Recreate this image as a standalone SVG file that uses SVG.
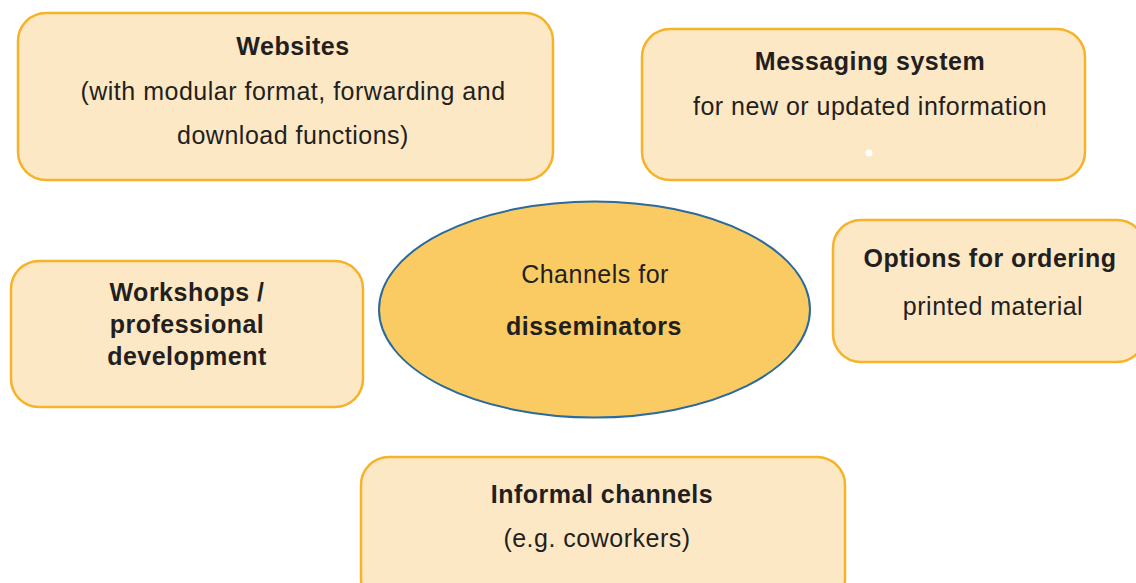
<svg xmlns="http://www.w3.org/2000/svg" width="1136" height="583" viewBox="0 0 1136 583">
<style>
.box{fill:#fde8c5;stroke:#f6b229;stroke-width:2.5}
.ell{fill:#f9cb62;stroke:#2b6a9c;stroke-width:2}
text{font-family:"Liberation Sans",Arial,sans-serif;font-size:25px;fill:#231f20;text-anchor:middle;letter-spacing:0.5px}
.b{font-weight:bold}
</style>
<rect width="1136" height="583" fill="#ffffff"/>
<g id="connectors"></g>
<g id="websites">
<rect class="box" x="18" y="13" width="535" height="167" rx="28"/>
<text class="b" x="293" y="55">Websites</text>
<text x="293" y="100">(with modular format, forwarding and</text>
<text x="293" y="144">download functions)</text>
</g>
<g id="messaging">
<rect class="box" x="642" y="29" width="443" height="151" rx="28"/>
<text class="b" x="870" y="70">Messaging system</text>
<text x="870" y="115">for new or updated information</text>
<circle cx="869" cy="153" r="3.5" fill="#ffffff"/>
</g>
<g id="options">
<rect class="box" x="833" y="220" width="312" height="142" rx="28"/>
<text class="b" x="990" y="267">Options for ordering</text>
<text x="993" y="315">printed material</text>
</g>
<g id="workshops">
<rect class="box" x="11" y="261" width="352" height="146" rx="28"/>
<text class="b" x="187" y="301">Workshops /</text>
<text class="b" x="187" y="333">professional</text>
<text class="b" x="187" y="365">development</text>
</g>
<g id="center">
<ellipse class="ell" cx="594.5" cy="309.5" rx="215.5" ry="108"/>
<text x="595" y="283">Channels for</text>
<text class="b" x="594" y="335">disseminators</text>
</g>
<g id="informal">
<rect class="box" x="361" y="457" width="484" height="150" rx="28"/>
<text class="b" x="602" y="503">Informal channels</text>
<text x="597" y="547">(e.g. coworkers)</text>
</g>
</svg>
